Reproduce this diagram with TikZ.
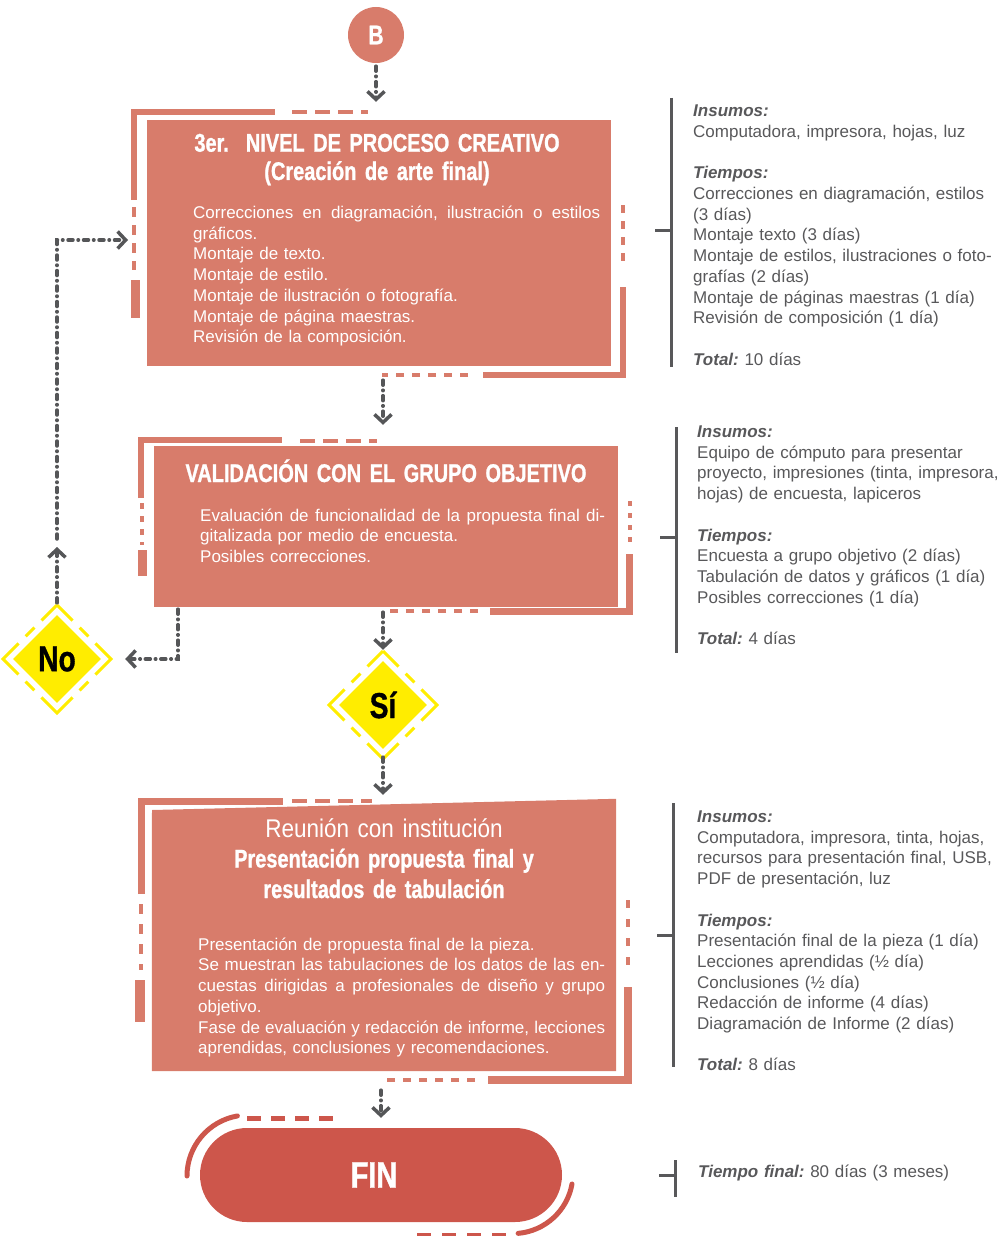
\documentclass[tikz,border=0pt]{standalone}
\usepackage{fontspec}
\setmainfont{Liberation Sans}
\newfontfamily\condfont[FakeStretch=0.88]{Liberation Sans}
\newfontfamily\condbold[FakeStretch=0.78,FakeBold=1]{Liberation Sans Bold}
\usetikzlibrary{arrows.meta,shapes.geometric}

\definecolor{salmon}{RGB}{216,124,107}
\definecolor{finred}{RGB}{205,86,75}
\definecolor{flowgray}{RGB}{85,86,88}
\definecolor{infogray}{RGB}{88,88,90}
\definecolor{ylw}{RGB}{255,237,0}

\begin{document}
\frenchspacing
\begin{tikzpicture}[x=1pt,y=-1pt,>={Straight Barb[length=8pt,width=17pt]},
	box/.style={rectangle,fill=salmon,inner sep=0pt},
	fr/.style={draw=salmon,line width=5pt},
	frd/.style={draw=salmon,line width=4.5pt,dash pattern=on 8pt off 8pt},
	title/.style={text=white,inner sep=0pt,text width=450pt,align=center,font=\condbold\fontsize{25.6}{28.3}\selectfont},
	body/.style={text=white,inner sep=0pt,text width=407pt,align=left,font=\fontsize{17}{20.75}\selectfont},
	info/.style={text=infogray,inner sep=0pt,text width=320pt,align=left,font=\fontsize{17}{20.7}\selectfont},
	dia/.style={diamond,fill=ylw,minimum width=88pt,minimum height=88pt,inner sep=0pt,font=\condbold\fontsize{36}{36}\selectfont},
	flow/.style={->,draw=flowgray,line width=3.5pt,line cap=round,dash pattern=on 5pt off 5pt on 0.5pt off 5pt}]

\useasboundingbox (0,0) rectangle (1006,1236);

\node [circle,fill=salmon,minimum size=56pt,inner sep=0pt,text=white,font=\condbold\fontsize{27}{27}\selectfont] (B) at (376,35) {B};

\node [box,minimum width=464pt,minimum height=246pt] (box1) at (379,243) {};
\node [box,minimum width=464pt,minimum height=161pt] (box2) at (386,526.5) {};
\node [inner sep=0pt,minimum width=464pt,minimum height=272pt] (box3) at (384,935) {};
\fill [salmon] (box3.south west) -- (box3.south east) -- (box3.north east) -- (152,810) -- cycle;

\draw [fr,line width=6pt] (134,200) -- (134,112) -- (275,112);
\draw [frd,dash pattern=on 15pt off 8pt] (292,112) -- (368,112);
\draw [frd,dash pattern=on 10pt off 8pt] (134,207) -- (134,270);
\draw [fr,line width=9pt] (135,280) -- (135,318);
\draw [frd] (623,205) -- (623,268);
\draw [fr,line width=6pt] (623,287) -- (623,375) -- (483,375);
\draw [frd] (468,375) -- (382,375);

\draw [fr,line width=6pt] (141,498) -- (141,440) -- (282,440);
\draw [frd,dash pattern=on 15pt off 8pt] (300,441) -- (377,441);
\draw [frd,dash pattern=on 6pt off 7pt] (142,503) -- (142,545);
\draw [fr,line width=9pt] (142,550) -- (142,576);
\draw [frd,dash pattern=on 5pt off 7pt] (630,501) -- (630,542);
\draw [fr,line width=7pt] (629,554) -- (629,611) -- (490,611);
\draw [frd] (478,611) -- (390,611);

\draw [fr,line width=7pt] (141,894) -- (141,801) -- (283,801);
\draw [frd,dash pattern=on 15pt off 8pt] (292,801) -- (372,801);
\draw [frd,dash pattern=on 10pt off 10pt] (141,904) -- (141,970);
\draw [fr,line width=10pt] (140,980) -- (140,1022);
\draw [frd,dash pattern=on 8pt off 11pt] (628,900) -- (628,967);
\draw [fr,line width=8pt] (628,987) -- (628,1080) -- (488,1080);
\draw [frd] (475,1080) -- (387,1080);

\node [fill=finred,rounded corners=47pt,minimum width=362pt,minimum height=94pt,inner sep=0pt,text=white,font=\condbold\fontsize{37}{37}\selectfont] (fin) at (381,1175) {\hspace*{-14pt}FIN};
\draw [draw=finred,line width=5pt,line cap=round] (187,1176) arc [start angle=180,end angle=100,radius=61pt];
\draw [draw=finred,line width=5pt,dash pattern=on 14pt off 10pt] (247,1118) -- (340,1118);
\draw [draw=finred,line width=5pt,line cap=round] (572,1184) arc [start angle=-10,end angle=-85,radius=60pt];
\draw [draw=finred,line width=5pt,dash pattern=on 14pt off 11pt] (417,1235) -- (513,1235);

\foreach \nm/\cx/\cy/\lbl in {no/57/659/No,si/383/705/Sí} {
	\node [dia] (\nm) at (\cx,\cy) {\lbl};
	\draw [draw=ylw,line width=3pt,dash pattern=on 44pt off 10pt on 12.4pt off 10pt,dash phase=22pt]
		(\cx,\cy-54) -- (\cx+54,\cy) -- (\cx,\cy+54) -- (\cx-54,\cy) -- cycle;
}

\node [title,anchor=base] (t1) at (377,151.7) {3er.~\ NIVEL DE PROCESO CREATIVO\\(Creación de arte final)};
\node [title,anchor=base] (t2) at (386,482) {VALIDACIÓN CON EL GRUPO OBJETIVO};
\node [title,anchor=base,font=\condbold\fontsize{25.6}{30.5}\selectfont] (t3) at (384,837) {{\condfont Reunión con institución}\\Presentación propuesta final y\\resultados de tabulación};

\node [body,anchor=base west] (b1) at (193,218.3) {\makebox[407pt][s]{\spaceskip=0pt Correcciones en diagramación, ilustración o estilos}\\gráficos.\\Montaje de texto.\\Montaje de estilo.\\Montaje de ilustración o fotografía.\\Montaje de página maestras.\\Revisión de la composición.};
\node [body,anchor=base west] (b2) at (200,521) {\makebox[405pt][s]{\spaceskip=0pt Evaluación de funcionalidad de la propuesta final di-}\\gitalizada por medio de encuesta.\\Posibles correcciones.};
\node [body,anchor=base west] (b3) at (198,950) {Presentación de propuesta final de la pieza.\\\makebox[407pt][s]{\spaceskip=0pt Se muestran las tabulaciones de los datos de las en-}\\\makebox[407pt][s]{\spaceskip=0pt cuestas dirigidas a profesionales de diseño y grupo}\\objetivo.\\\makebox[407pt][s]{\spaceskip=0pt Fase de evaluación y redacción de informe, lecciones}\\aprendidas, conclusiones y recomendaciones.};

\foreach \bx/\ytop/\ybot/\ytick in {671/98/367/230,676/427/653/537,673/803/1067/935,675/1160/1197/1175} {
	\draw [draw=infogray,line width=3pt] (\bx,\ytop) -- (\bx,\ybot);
	\draw [draw=infogray,line width=3pt] (\bx-16,\ytick) -- (\bx,\ytick);
}

\node [info,anchor=base west] (i1) at (693,116.7) {\textbf{\textit{Insumos:}}\\Computadora, impresora, hojas, luz\\[20.7pt]\textbf{\textit{Tiempos:}}\\Correcciones en diagramación, estilos\\(3 días)\\Montaje texto (3 días)\\Montaje de estilos, ilustraciones o foto-\\grafías (2 días)\\Montaje de páginas maestras (1 día)\\Revisión de composición (1 día)\\[20.7pt]\textbf{\textit{Total:}} 10 días};
\node [info,anchor=base west] (i2) at (697,437.5) {\textbf{\textit{Insumos:}}\\Equipo de cómputo para presentar\\proyecto, impresiones (tinta, impresora,\\hojas) de encuesta, lapiceros\\[20.7pt]\textbf{\textit{Tiempos:}}\\Encuesta a grupo objetivo (2 días)\\Tabulación de datos y gráficos (1 día)\\Posibles correcciones (1 día)\\[20.7pt]\textbf{\textit{Total:}} 4 días};
\node [info,anchor=base west] (i3) at (697,822.5) {\textbf{\textit{Insumos:}}\\Computadora, impresora, tinta, hojas,\\recursos para presentación final, USB,\\PDF de presentación, luz\\[20.7pt]\textbf{\textit{Tiempos:}}\\Presentación final de la pieza (1 día)\\Lecciones aprendidas (½ día)\\Conclusiones (½ día)\\Redacción de informe (4 días)\\Diagramación de Informe (2 días)\\[20.7pt]\textbf{\textit{Total:}} 8 días};
\node [info,anchor=base west] (i4) at (698,1177.7) {\textbf{\textit{Tiempo final:}} 80 días (3 meses)};

\coordinate (nodrop) at (178,659);
\coordinate (noup) at (57,547);
\coordinate (loopin) at (128,240);

\draw [flow,shorten <=3pt,shorten >=18pt] (B.south) -- (B.south |- box1.north);
\draw [flow,shorten <=14pt,shorten >=21pt] (box1.south -| si.north) -- (box2.north -| si.north);
\draw [flow,shorten <=5pt,shorten >=11pt] (box2.south -| si.north) -- (si.north);
\draw [flow,shorten <=2pt,shorten >=24pt] (box2.south -| nodrop) -- (nodrop) -- (no.east);
\draw [flow,shorten <=12pt] (no.north) -- (noup);
\draw [flow,shorten <=8pt] (noup) |- (loopin);
\draw [flow,shorten <=8pt,shorten >=4pt] (si.south) -- (si.south |- box3.north);
\draw [flow,shorten <=19pt,shorten >=10pt] (box3.south -| fin.north) -- (fin.north);

\end{tikzpicture}
\end{document}
